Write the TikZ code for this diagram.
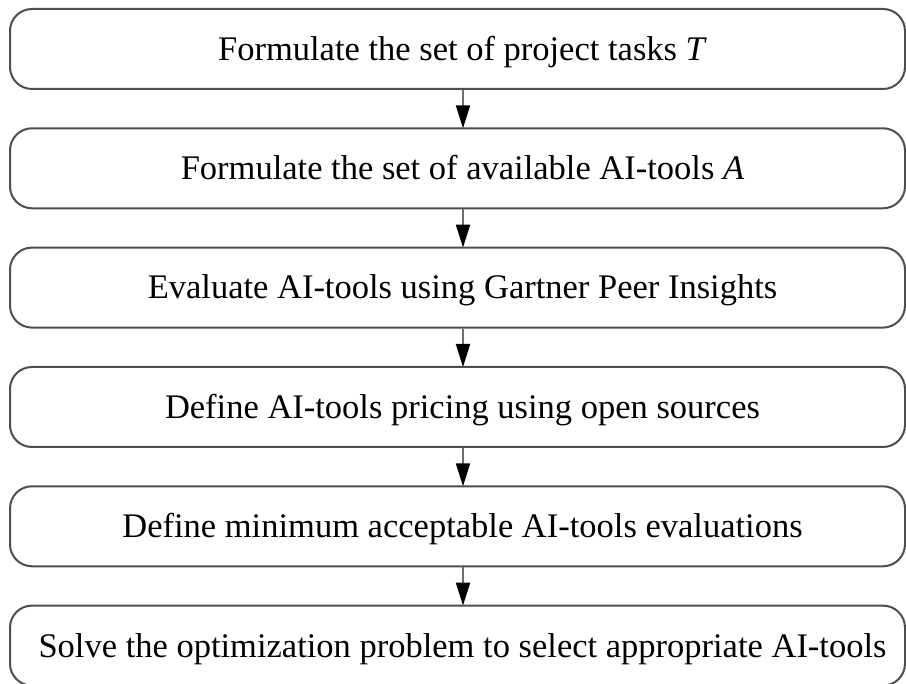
\documentclass[tikz,border=0pt]{standalone}
\usepackage{fontspec}
\setmainfont{Liberation Serif}
\usetikzlibrary{arrows.meta}
\definecolor{framegray}{RGB}{78,78,78}
\definecolor{stemgray}{RGB}{110,110,110}
\tikzset{
  stagebox/.style={draw=framegray, line width=2pt, rounded corners=22pt,
    minimum width=895pt, minimum height=80pt, inner sep=0pt, fill=white},
  stagetext/.style={anchor=base, inner sep=0pt, font=\fontsize{34.5}{40}\selectfont},
  flowarrow/.style={draw=stemgray, line width=2pt,
    -{Triangle[length=23pt, width=14pt, fill=black, color=black]}, shorten >=-1pt}
}
\begin{document}
\begin{tikzpicture}[x=1pt, y=-1pt]
  \clip (0,0) rectangle (906,684);
  \fill[white] (0,0) rectangle (906,684);

  % process stages
  \node[stagebox] (b1) at (457.5, 49.0) {};
  \node[stagebox] (b2) at (457.5,168.3) {};
  \node[stagebox] (b3) at (457.5,287.6) {};
  \node[stagebox] (b4) at (457.5,407.0) {};
  \node[stagebox] (b5) at (457.5,526.3) {};
  \node[stagebox] (b6) at (457.5,645.6) {};

  \node[stagetext] (t1) at ([xshift=5pt, yshift=-11.4pt]b1.center) {Formulate the set of project tasks \textit{T}};
  \node[stagetext] (t2) at ([xshift=5pt, yshift=-11.4pt]b2.center) {Formulate the set of available AI-tools \textit{A}};
  \node[stagetext] (t3) at ([xshift=5pt, yshift=-11.4pt]b3.center) {Evaluate AI-tools using Gartner Peer Insights};
  \node[stagetext] (t4) at ([xshift=5pt, yshift=-11.4pt]b4.center) {Define AI-tools pricing using open sources};
  \node[stagetext] (t5) at ([xshift=5pt, yshift=-11.4pt]b5.center) {Define minimum acceptable AI-tools evaluations};
  \node[stagetext] (t6) at ([xshift=5pt, yshift=-11.4pt]b6.center) {Solve the optimization problem to select appropriate AI-tools};

  % connectors between consecutive stages
  \foreach \a/\b in {b1/b2, b2/b3, b3/b4, b4/b5, b5/b6}
    \draw[flowarrow] ([xshift=5.5pt]\a.south) -- ([xshift=5.5pt]\b.north);
\end{tikzpicture}
\end{document}
